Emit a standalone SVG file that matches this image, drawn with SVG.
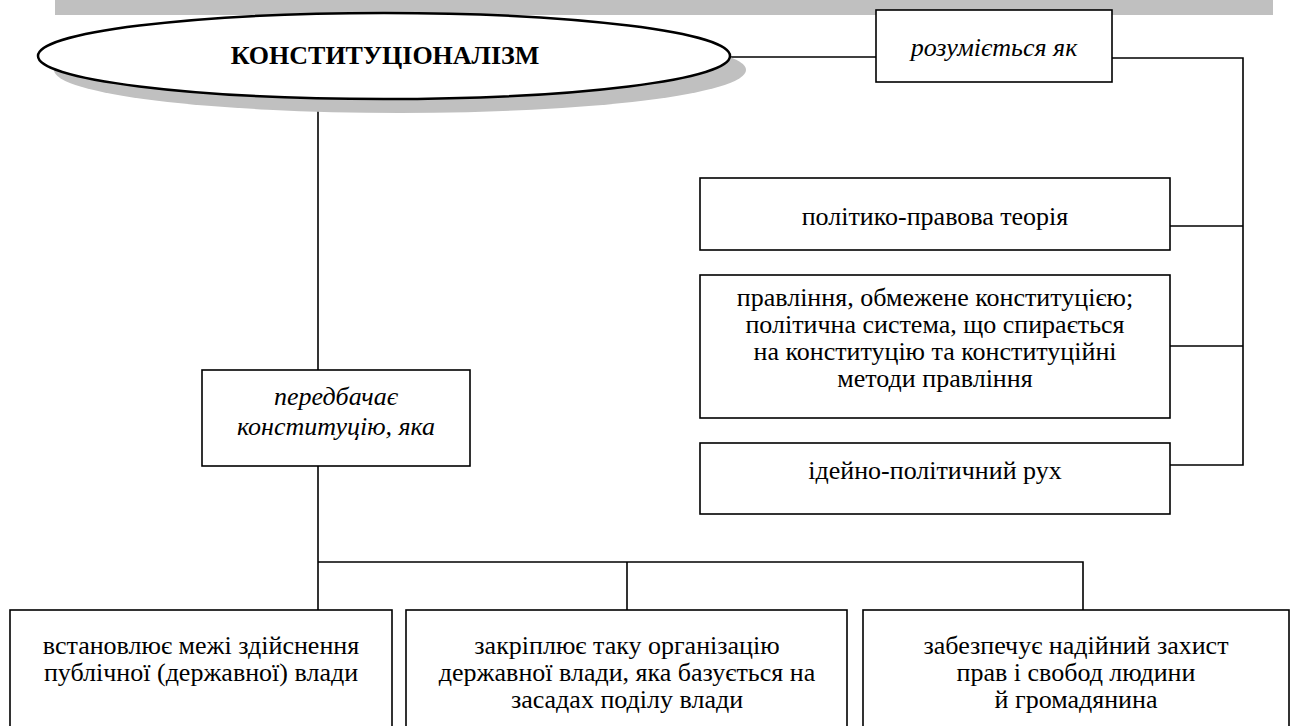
<svg xmlns="http://www.w3.org/2000/svg" width="1290" height="726" viewBox="0 0 1290 726">
<style>
.box{fill:#fff;stroke:#000;stroke-width:1.6}
.ln{fill:none;stroke:#000;stroke-width:1.6}
.t{font-family:"Liberation Serif","Times New Roman",serif;font-size:26px;fill:#000;text-anchor:middle}
.i{font-style:italic}
.b{font-weight:bold}
</style>
<rect x="55" y="0" width="1218" height="15" fill="#c0c0c0"/>
<g id="connectors">
<path class="ln" d="M730 57 H876"/>
<path class="ln" d="M1112 58 H1243 V465 H1170"/>
<path class="ln" d="M1170 226 H1243"/>
<path class="ln" d="M1170 346 H1243"/>
<path class="ln" d="M318 99 V370"/>
<path class="ln" d="M318 466 V610"/>
<path class="ln" d="M318 562 H1083 V610"/>
<path class="ln" d="M627 562 V610"/>
</g>
<g id="n-konst">
<ellipse cx="400" cy="70" rx="346" ry="43" fill="#c0c0c0"/>
<ellipse cx="384" cy="56" rx="346" ry="43" fill="#fff" stroke="#000" stroke-width="2.5"/>
<text class="t b" x="385" y="64" font-size="27.5">КОНСТИТУЦІОНАЛІЗМ</text>
</g>
<g id="n-rozum">
<rect class="box" x="876" y="10" width="236" height="72" stroke="#333"/>
<text class="t i" x="994" y="56">розуміється як</text>
</g>
<g id="n-teoria">
<rect class="box" x="700" y="178" width="470" height="72"/>
<text class="t" x="935" y="225">політико-правова теорія</text>
</g>
<g id="n-pravlinnia">
<rect class="box" x="700" y="275" width="470" height="143"/>
<text class="t" x="935" y="306">правління, обмежене конституцією;</text>
<text class="t" x="935" y="333">політична система, що спирається</text>
<text class="t" x="935" y="360">на конституцію та конституційні</text>
<text class="t" x="935" y="387">методи правління</text>
</g>
<g id="n-rukh">
<rect class="box" x="700" y="443" width="470" height="71"/>
<text class="t" x="935" y="479">ідейно-політичний рух</text>
</g>
<g id="n-peredbachaie">
<rect class="box" x="202" y="370" width="268" height="96"/>
<text class="t i" x="336" y="405">передбачає</text>
<text class="t i" x="336" y="435">конституцію, яка</text>
</g>
<g id="n-mezhi">
<rect class="box" x="10" y="610" width="382" height="130"/>
<text class="t" x="201" y="654">встановлює межі здійснення</text>
<text class="t" x="201" y="681">публічної (державної) влади</text>
</g>
<g id="n-orhanizatsiia">
<rect class="box" x="406" y="610" width="441" height="130"/>
<text class="t" x="627" y="654">закріплює таку організацію</text>
<text class="t" x="627" y="681">державної влади, яка базується на</text>
<text class="t" x="627" y="708">засадах поділу влади</text>
</g>
<g id="n-zakhyst">
<rect class="box" x="863" y="610" width="426" height="130"/>
<text class="t" x="1076" y="654">забезпечує надійний захист</text>
<text class="t" x="1076" y="681">прав і свобод людини</text>
<text class="t" x="1076" y="708">й громадянина</text>
</g>
</svg>
